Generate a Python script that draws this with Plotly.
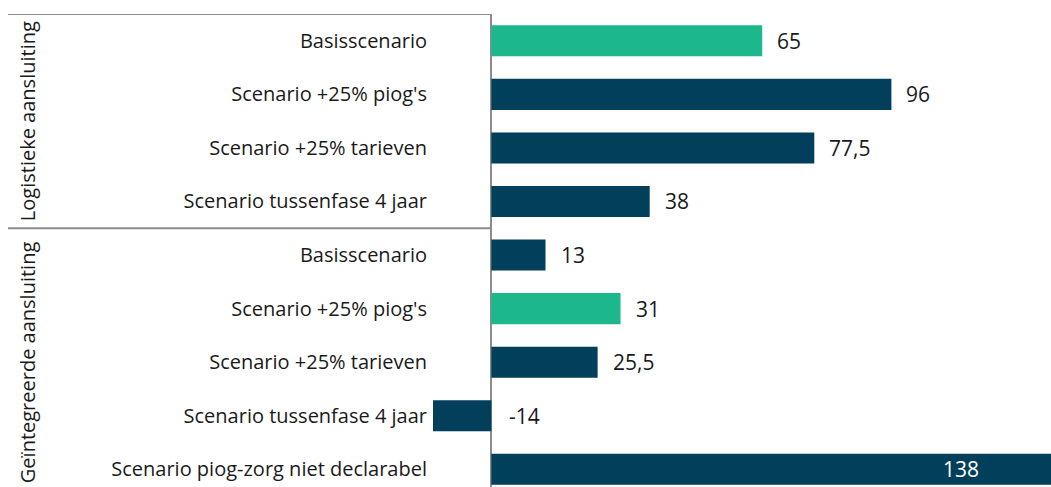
import plotly.graph_objects as go

labels = ["Basisscenario", "Scenario +25% piog's", "Scenario +25% tarieven", "Scenario tussenfase 4 jaar",
          "Basisscenario", "Scenario +25% piog's", "Scenario +25% tarieven", "Scenario tussenfase 4 jaar",
          "Scenario piog-zorg niet declarabel"]
values = [65, 96, 77.5, 38, 13, 31, 25.5, -14, 138]
value_text = ["65", "96", "77,5", "38", "13", "31", "25,5", "-14", "138"]
highlight = [True, False, False, False, False, True, False, False, False]
groups = ["Logistieke aansluiting", "Geïntegreerde aansluiting"]
group_sizes = [4, 5]

GREEN = "#1cb78b"
NAVY = "#013f5a"
GRID = "#8c8c8c"
TXT = "#1a1a1a"
FONT = "Open Sans"
FS = 20
FSV = 21

W, H = 1051, 487
ML = 433
XMIN, XMAX = -14.0, 134.3
YTOP, YBOT = -0.5, 8.33

pos = list(range(len(labels)))
colors = [GREEN if h else NAVY for h in highlight]

fig = go.Figure(go.Bar(
    x=values, y=pos, orientation="h", marker=dict(color=colors, line=dict(width=0)),
    width=0.58, hoverinfo="skip",
))

plot_w = W - ML
def px_to_paper(px):
    return (px - ML) / plot_w

annotations = []
for i, (v, t) in enumerate(zip(values, value_text)):
    if v > XMAX:
        annotations.append(dict(x=XMAX, y=i, xref="x", yref="y", text=t, showarrow=False,
                                xanchor="right", xshift=-70, font=dict(color="white", size=FSV, family=FONT)))
    elif v < 0:
        annotations.append(dict(x=0, y=i, xref="x", yref="y", text=t, showarrow=False,
                                xanchor="left", xshift=16, font=dict(color=TXT, size=FSV, family=FONT)))
    else:
        annotations.append(dict(x=v, y=i, xref="x", yref="y", text=t, showarrow=False,
                                xanchor="left", xshift=13, font=dict(color=TXT, size=FSV, family=FONT)))

shapes = []
start = 0
for g, n in zip(groups, group_sizes):
    center = start + (n - 1) / 2
    annotations.append(dict(x=px_to_paper(27), y=center, xref="paper", yref="y", text=g, showarrow=False,
                            textangle=-90, xanchor="center", yanchor="middle",
                            font=dict(color=TXT, size=FS, family=FONT)))
    shapes.append(dict(type="line", xref="paper", yref="y", x0=px_to_paper(8), x1=px_to_paper(491),
                       y0=start - 0.5, y1=start - 0.5, line=dict(color=GRID, width=2)))
    start += n

fig.update_layout(
    width=W, height=H,
    margin=dict(l=ML, r=0, t=14, b=0),
    paper_bgcolor="white", plot_bgcolor="white",
    showlegend=False,
    annotations=annotations,
    shapes=shapes,
    font=dict(family=FONT, size=FS, color=TXT),
    xaxis=dict(range=[XMIN, XMAX], showgrid=False, showticklabels=False, zeroline=True,
               zerolinecolor=GRID, zerolinewidth=2, fixedrange=True),
    yaxis=dict(range=[YBOT, YTOP], tickmode="array", tickvals=pos, ticktext=labels,
               showgrid=False, zeroline=False, ticks="", ticklabelstandoff=5, fixedrange=True,
               tickfont=dict(size=FS, family=FONT, color=TXT)),
)

fig.write_html("out.html", config={"displayModeBar": False},
               post_script="document.body.style.margin='0';document.body.style.overflow='hidden';")
